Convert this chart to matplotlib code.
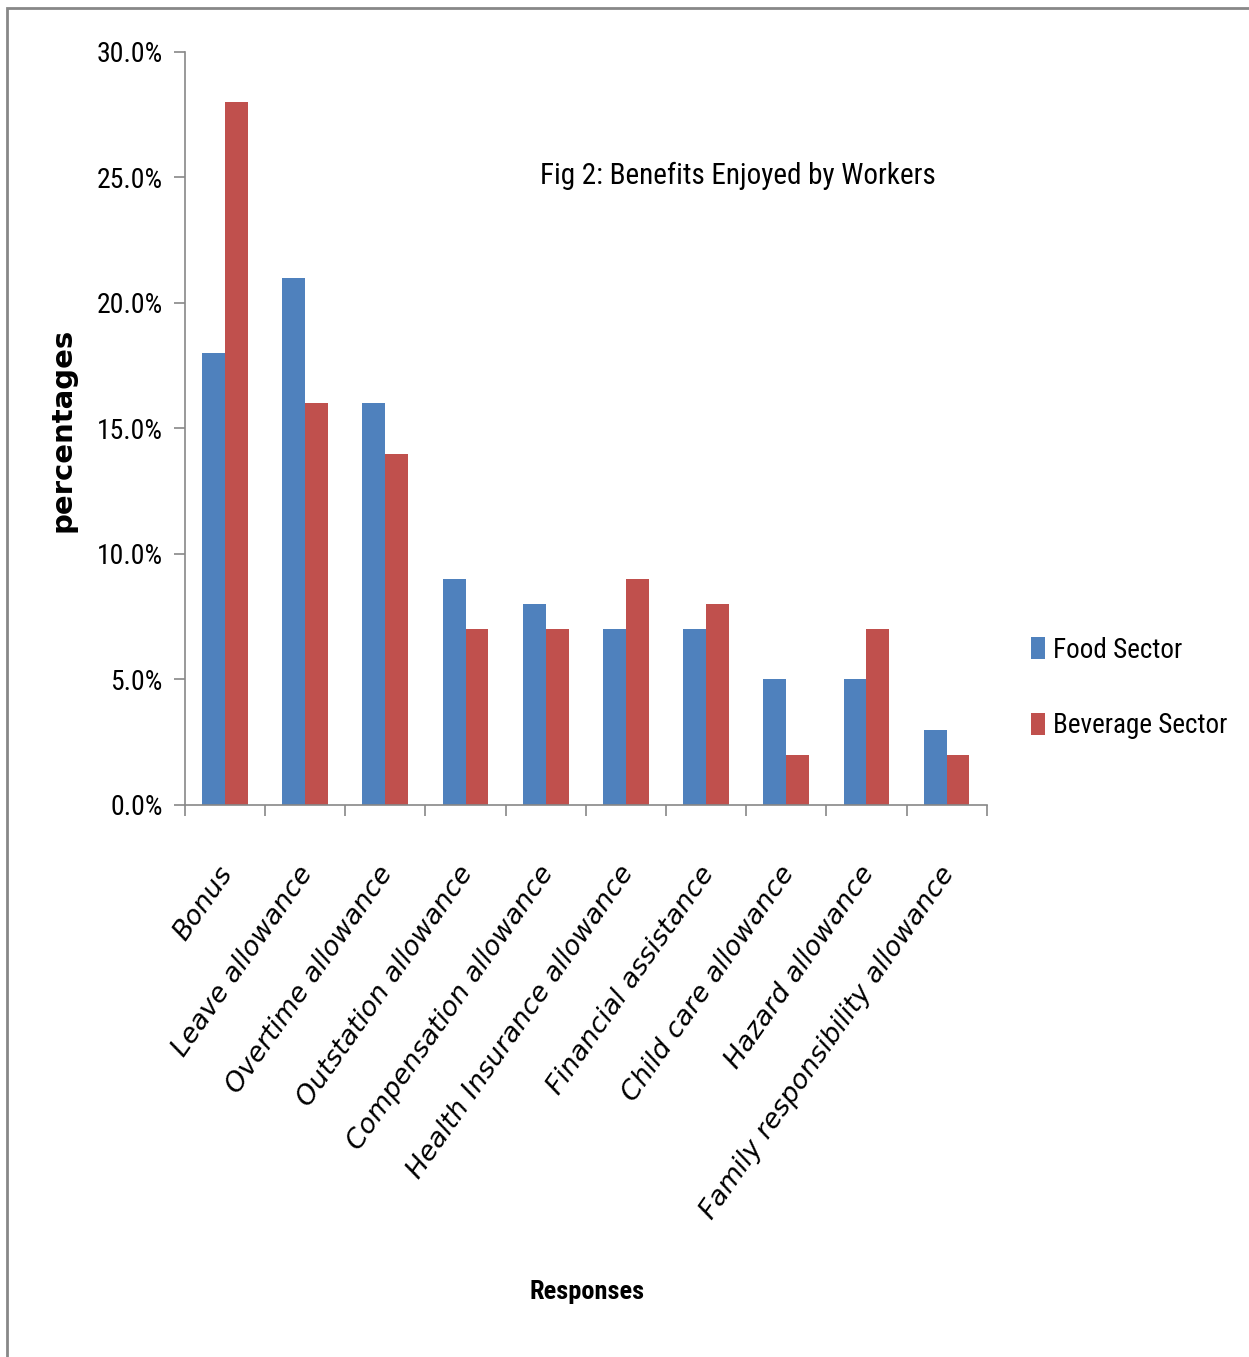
import numpy as np
import matplotlib
matplotlib.use("Agg")
import matplotlib.pyplot as plt
from matplotlib import font_manager
from matplotlib.patches import Rectangle

categories = ["Bonus", "Leave allowance", "Overtime allowance", "Outstation allowance",
              "Compensation allowance", "Health Insurance allowance", "Financial assistance",
              "Child care allowance", "Hazard allowance", "Family responsibility allowance"]
food = [18, 21, 16, 9, 8, 7, 7, 5, 5, 3]
beverage = [28, 16, 14, 7, 7, 9, 8, 2, 7, 2]

names = {f.name for f in font_manager.fontManager.ttflist}
narrow = "DejaVu Sans"
for cand in ["Liberation Sans Narrow", "DejaVu Sans Condensed", "Roboto Condensed", "Open Sans Condensed"]:
    if cand in names:
        narrow = cand
        break
plt.rcParams['font.family'] = [narrow, 'DejaVu Sans']

fig = plt.figure(figsize=(12.49, 13.57), dpi=100)
fig.patches.append(Rectangle((0.006, -0.01), 1.1, 1.004, transform=fig.transFigure,
                             fill=False, edgecolor="#888888", linewidth=2))

ax = fig.add_axes([0.148, 0.4068, 0.642, 0.5549])
x = np.arange(len(categories))
w = 0.285
ax.bar(x - w / 2, food, w, color="#4F81BD", label="Food Sector")
ax.bar(x + w / 2, beverage, w, color="#C0504D", label="Beverage Sector")

ax.set_xlim(-0.5, len(categories) - 0.5)
ax.set_ylim(0, 30)
ax.set_yticks(np.arange(0, 31, 5))
ax.set_yticklabels([f"{v:.1f}%" for v in np.arange(0, 31, 5)], fontsize=20)
ax.set_xticks(np.arange(len(categories) + 1) - 0.5)
ax.set_xticklabels([])
ax.tick_params(axis="both", direction="out", length=8, color="#888888", width=1.2)
ax.tick_params(axis="y", pad=8)
for s in ["top", "right"]:
    ax.spines[s].set_visible(False)
for s in ["left", "bottom"]:
    ax.spines[s].set_color("#888888")
    ax.spines[s].set_linewidth(1.2)

# rotated italic category labels
for i, c in enumerate(categories):
    ax.annotate(c, xy=(i, 0), xycoords="data", xytext=(2, -46), textcoords="offset points",
                rotation=55, rotation_mode="anchor", ha="right", va="center",
                fontsize=19.5, style="oblique", family="DejaVu Sans")

ax.text(0.69, 0.835, "Fig 2: Benefits Enjoyed by Workers", transform=ax.transAxes,
        ha="center", va="center", fontsize=21)

fig.text(0.05, 0.683, "percentages", rotation=90, ha="center", va="center",
         fontsize=21, fontweight="bold", family="DejaVu Sans")
fig.text(0.47, 0.048, "Responses", ha="center", va="center", fontsize=19, fontweight="bold")

ax.legend(loc="center left", bbox_to_anchor=(0.806, 0.493), bbox_transform=fig.transFigure,
          frameon=False, fontsize=19.5, handlelength=0.5, handleheight=0.85,
          handletextpad=0.3, labelspacing=1.8)

fig.savefig("out.png", dpi=100)
